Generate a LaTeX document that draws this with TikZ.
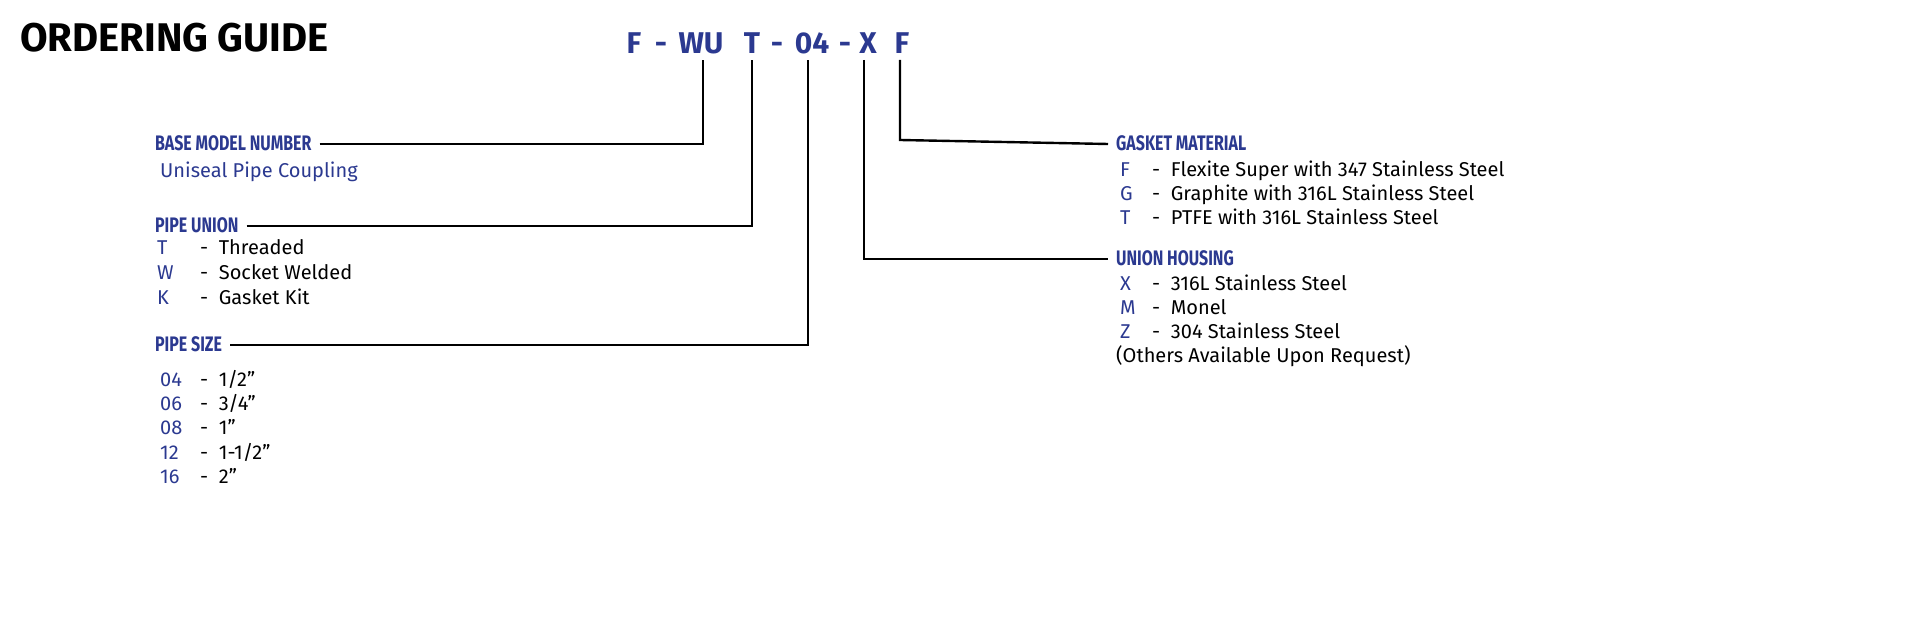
\documentclass[tikz,border=0pt]{standalone}
\usepackage{fontspec}
\setmainfont{Fira Sans}
\definecolor{guideblue}{HTML}{2B3990}
\tikzset{
  heading/.style={anchor=base west, font=\bfseries\fontsize{40}{40}\selectfont, inner sep=0pt},
  codeletter/.style={anchor=base, text=guideblue, font=\bfseries\fontsize{30}{30}\selectfont, inner sep=0pt},
  grouptitle/.style={anchor=base west, text=guideblue, font=\fontsize{21}{21}\selectfont\bfseries, xscale=0.76, inner sep=0pt},
  optkey/.style={anchor=base west, text=guideblue, font=\fontsize{20}{20}\selectfont, inner sep=0pt},
  opttext/.style={anchor=base west, font=\fontsize{20}{20}\selectfont, inner sep=0pt},
  leader/.style={line width=2.4pt},
}
\begin{document}
\begin{tikzpicture}[x=1pt,y=-1pt]
\useasboundingbox (0,0) rectangle (1920,617);
\node[heading] (title) at (20,52) {ORDERING GUIDE};
% model code
\node[codeletter] (cF) at (634,54) {F};
\node[codeletter] at (661,54) {-};
\node[codeletter] (cWU) at (701,54) {WU};
\node[codeletter] (cT) at (752,54) {T};
\node[codeletter] at (777,54) {-};
\node[codeletter] (c04) at (812,54) {04};
\node[codeletter] at (845,54) {-};
\node[codeletter] (cX) at (868,54) {X};
\node[codeletter] (cF2) at (902,54) {F};
% left groups
\node[grouptitle] (base) at (155,151) {BASE MODEL NUMBER};
\node[optkey] at (160,178) {Uniseal Pipe Coupling};
\node[grouptitle] (union) at (155,233) {PIPE UNION};
\foreach \k/\t [count=\i] in {T/Threaded,W/Socket Welded,K/Gasket Kit}{
  \node[optkey] at (157,230+25*\i) {\k};
  \node[opttext] at (200,230+25*\i) {-\ \ \t};
}
\node[grouptitle] (size) at (155,352) {PIPE SIZE};
\foreach \k/\t [count=\i] in {04/{1/2''},06/{3/4''},08/1'',12/{1-1/2''},16/2''}{
  \node[optkey] at (160,363+24*\i) {\k};
  \node[opttext] at (200,363+24*\i) {-\ \ \t};
}
% right groups
\node[grouptitle] (gasket) at (1116,151) {GASKET MATERIAL};
\foreach \k/\t [count=\i] in {F/Flexite Super with 347 Stainless Steel,G/Graphite with 316L Stainless Steel,T/PTFE with 316L Stainless Steel}{
  \node[optkey] at (1120,153+24*\i) {\k};
  \node[opttext] at (1152,153+24*\i) {-\ \ \t};
}
\node[grouptitle] (housing) at (1116,266) {UNION HOUSING};
\foreach \k/\t [count=\i] in {X/316L Stainless Steel,M/Monel,Z/304 Stainless Steel}{
  \node[optkey] at (1120,267+24*\i) {\k};
  \node[opttext] at (1152,267+24*\i) {-\ \ \t};
}
\node[opttext] (others) at (1116,363) {(Others Available Upon Request)};
% leaders
\draw[leader] ([xshift=8pt,yshift=7pt]base.base east) -- (703,144) -- (703,60);
\draw[leader] ([xshift=8pt,yshift=7pt]union.base east) -- (752,226) -- (752,60);
\draw[leader] ([xshift=8pt,yshift=7pt]size.base east) -- (808,345) -- (808,60);
\draw[leader] (864,60) -- (864,259) -- ([xshift=-8pt,yshift=7pt]housing.base west);
\draw[leader] (900,60) -- (900,140) -- ([xshift=-8pt,yshift=7pt]gasket.base west);
\end{tikzpicture}
\end{document}
